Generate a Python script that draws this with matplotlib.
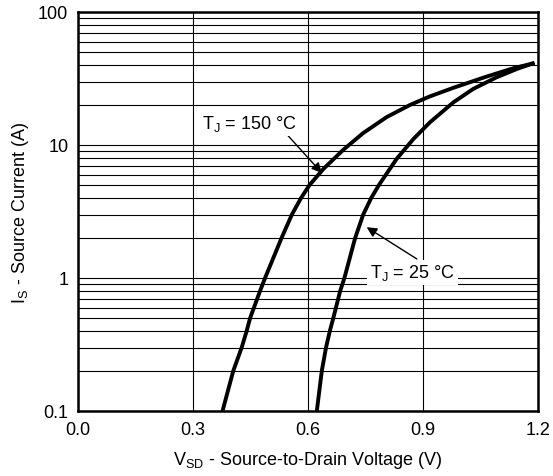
import matplotlib
matplotlib.use("Agg")
import matplotlib.pyplot as plt
from matplotlib.ticker import NullFormatter, LogLocator

plt.rcParams['font.family'] = ['Liberation Sans', 'DejaVu Sans']
plt.rcParams['mathtext.fontset'] = 'custom'
plt.rcParams['mathtext.rm'] = 'Liberation Sans'
plt.rcParams['mathtext.it'] = 'Liberation Sans'

# T_J = 150 °C curve
v_150 = [0.377, 0.405, 0.427, 0.440, 0.449, 0.475, 0.488, 0.531, 0.558, 0.582,
         0.604, 0.640, 0.692, 0.744, 0.805, 0.866, 0.918, 0.979, 1.066, 1.136, 1.186]
i_150 = [0.1, 0.2, 0.3, 0.4, 0.5, 0.8, 1.0, 2.0, 3.0, 4.0,
         5.0, 6.6, 9.2, 12.3, 16.2, 20.0, 23.2, 26.9, 32.7, 37.8, 41.0]

# T_J = 25 °C curve
v_25 = [0.623, 0.636, 0.647, 0.657, 0.666, 0.684, 0.695, 0.723, 0.744, 0.765,
        0.785, 0.831, 0.875, 0.918, 0.979, 1.031, 1.092, 1.145, 1.186]
i_25 = [0.1, 0.2, 0.3, 0.4, 0.5, 0.8, 1.0, 2.0, 3.0, 4.0,
        5.0, 7.85, 11.1, 14.8, 20.9, 26.4, 32.3, 37.3, 41.0]

x_ticks = [0.0, 0.3, 0.6, 0.9, 1.2]
x_tick_labels = ["0.0", "0.3", "0.6", "0.9", "1.2"]
y_ticks = [0.1, 1, 10, 100]
y_tick_labels = ["0.1", "1", "10", "100"]

fig = plt.figure(figsize=(5.53, 4.77), dpi=100)
ax = fig.add_axes([78/553, 1-412/477, (538-78)/553, (412-13)/477])

ax.set_yscale('log')
ax.set_xlim(0, 1.2)
ax.set_ylim(0.1, 100)

ax.set_xticks(x_ticks)
ax.set_xticklabels(x_tick_labels)
ax.set_yticks(y_ticks)
ax.set_yticklabels(y_tick_labels)
ax.yaxis.set_minor_locator(LogLocator(base=10, subs=range(2, 10)))
ax.yaxis.set_minor_formatter(NullFormatter())

ax.grid(True, which='major', axis='both', color='black', linewidth=0.8)
ax.grid(True, which='minor', axis='y', color='black', linewidth=0.8)
ax.tick_params(which='both', length=0, labelsize=13, pad=7)

for s in ax.spines.values():
    s.set_linewidth(1.8)

ax.plot(v_150, i_150, color='black', linewidth=2.8, solid_joinstyle='round', zorder=3)
ax.plot(v_25, i_25, color='black', linewidth=2.8, solid_joinstyle='round', zorder=3)

ax.annotate('', xy=(0.636, 6.16), xytext=(0.540, 12.46),
            arrowprops=dict(arrowstyle='-|>', color='black', lw=1.0,
                            mutation_scale=15, shrinkA=0, shrinkB=0), zorder=4)
ax.annotate('', xy=(0.753, 2.41), xytext=(0.884, 1.39),
            arrowprops=dict(arrowstyle='-|>', color='black', lw=1.0,
                            mutation_scale=15, shrinkA=0, shrinkB=0), zorder=4)

ax.text(0.447, 14.6, r'T$_\mathregular{J}$ = 150 °C', fontsize=13, ha='center', va='center',
        zorder=5, bbox=dict(facecolor='white', edgecolor='none', pad=2))
ax.text(0.873, 1.10, r'T$_\mathregular{J}$ = 25 °C', fontsize=13, ha='center', va='center',
        zorder=5, bbox=dict(facecolor='white', edgecolor='none', pad=2))

ax.set_xlabel(r'V$_\mathregular{SD}$ - Source-to-Drain Voltage (V)', fontsize=13, labelpad=8)
ax.set_ylabel(r'I$_\mathregular{S}$ - Source Current (A)', fontsize=13, labelpad=5)

fig.savefig('out.png', dpi=100)
